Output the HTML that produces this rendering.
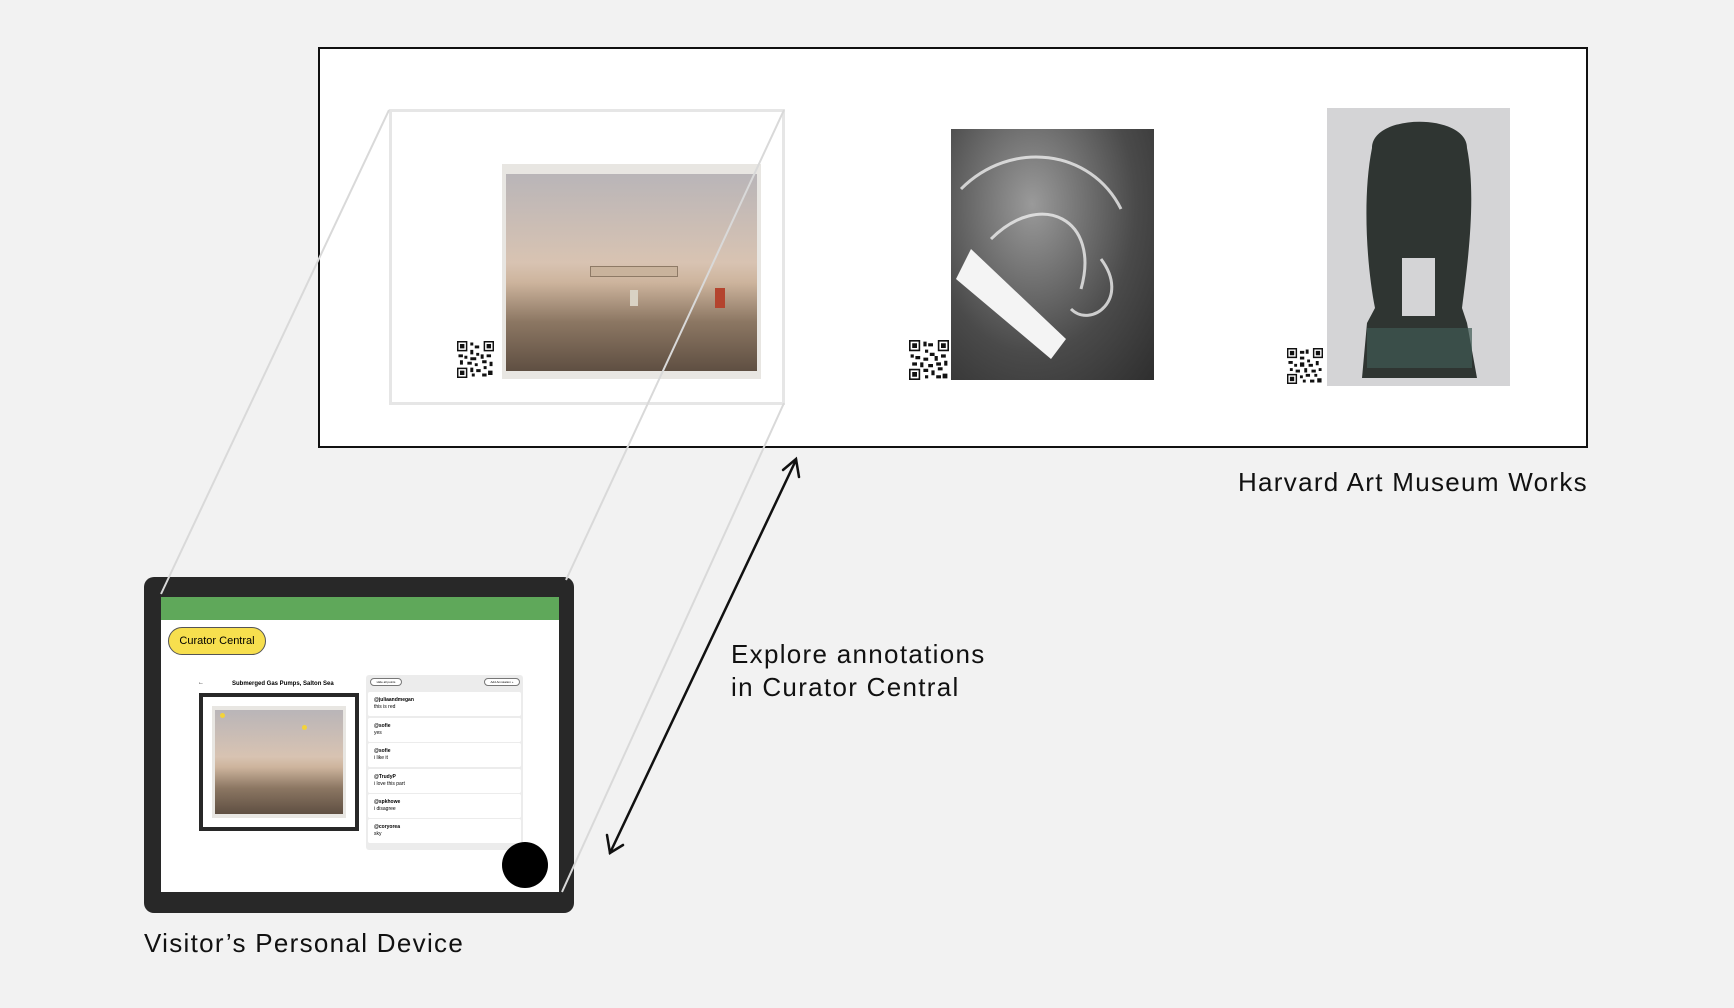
<!DOCTYPE html>
<html><head><meta charset="utf-8"><style>
body{margin:0;width:1734px;height:1008px;background:#f2f2f2;position:relative;overflow:hidden;font-family:"Liberation Sans",sans-serif}
.a{position:absolute}
.lbl{position:absolute;font-size:26px;color:#111;white-space:nowrap;line-height:1;letter-spacing:1.3px}
.card{position:absolute;left:368px;width:153px;height:24px;background:#fff;border-radius:2px;font-size:5px;line-height:7px}
.card b{display:block;margin:5px 0 0 6px}
.card span{display:block;margin-left:6px}
</style></head><body>
<div class="a" style="left:318px;top:47px;width:1266px;height:397px;border:2px solid #111;background:#fff"></div>
<div class="a" style="left:389px;top:109px;width:390px;height:290px;border:3px solid #e6e6e6"></div>
<!-- photo 1 -->
<div class="a" style="left:502px;top:164px;width:259px;height:215px;background:#e8e6e2"></div>
<div class="a" style="left:506px;top:174px;width:251px;height:197px;background:linear-gradient(#b9b5b8 0%,#d8c3b2 45%,#cdb49d 55%,#8c7763 75%,#5f4f42 100%)"></div>
<div class="a" style="left:590px;top:266px;width:86px;height:9px;background:#c9b39c;border:1px solid #8e7a66"></div>
<div class="a" style="left:715px;top:288px;width:10px;height:20px;background:#b4442e"></div>
<div class="a" style="left:630px;top:290px;width:8px;height:16px;background:#d9d2c4"></div>
<!-- photo 2 -->
<div class="a" style="left:951px;top:129px;width:203px;height:251px;background:radial-gradient(ellipse at 40% 30%,#9a9a9a,#4a4a4a 60%,#2e2e2e)"></div>
<svg class="a" style="left:951px;top:129px" width="203" height="251"><g fill="none" stroke="#eee" stroke-width="3" opacity=".8"><path d="M10 60 C60 10 140 20 170 80"/><path d="M40 110 C90 60 150 90 130 160"/><path d="M150 130 C180 170 140 200 120 180"/></g><polygon points="5,150 100,230 115,210 20,120" fill="#f4f4f4"/></svg>
<!-- photo 3 -->
<div class="a" style="left:1327px;top:108px;width:183px;height:278px;background:#d4d4d6"></div>
<svg class="a" style="left:1327px;top:108px" width="183" height="278"><path d="M45 40 C45 5 140 5 140 40 C150 90 140 160 135 200 L140 215 L150 270 L35 270 L40 215 L48 200 C40 160 35 90 45 40Z" fill="#2f3532"/><rect x="75" y="150" width="33" height="58" fill="#d4d4d6"/><path d="M40 220 L145 220 L145 260 L40 260Z" fill="#3e5a52" opacity=".7"/></svg>
<!-- QR codes -->
<svg class="a" style="left:457px;top:341px" width="37" height="37" viewBox="0 0 25 25"><rect width="25" height="25" fill="#fff"/><g fill="#111"><path d="M0 0h7v7H0zM18 0h7v7h-7zM0 18h7v7H0z"/><path d="M9 1h2v2H9zM12 3h3v2h-3zM9 6h2v3H9zM13 8h2v2h-2zM1 9h3v2H1zM5 10h2v2H5zM9 11h4v2H9zM16 9h2v3h-2zM20 9h3v2h-3zM2 13h2v3H2zM7 14h3v2H7zM12 15h2v2h-2zM17 13h3v2h-3zM22 14h2v3h-2zM9 18h2v3H9zM13 19h3v2h-3zM18 17h2v2h-2zM21 20h3v3h-3zM17 22h3v2h-3zM10 22h2v2h-2z"/></g><g fill="#fff"><path d="M1 1h5v5H1zM19 1h5v5h-5zM1 19h5v5H1z"/></g><g fill="#111"><path d="M2 2h3v3H2zM20 2h3v3h-3zM2 20h3v3H2z"/></g></svg>
<svg class="a" style="left:909px;top:340px" width="40" height="40" viewBox="0 0 25 25"><rect width="25" height="25" fill="#fff"/><g fill="#111"><path d="M0 0h7v7H0zM18 0h7v7h-7zM0 18h7v7H0z"/><path d="M9 1h2v3H9zM12 2h3v2h-3zM10 6h2v2h-2zM13 8h3v2h-3zM1 9h2v2H1zM4 10h3v2H4zM9 11h3v2H9zM16 10h2v3h-2zM20 9h3v2h-3zM2 14h3v2H2zM7 14h2v3H7zM12 15h3v2h-3zM17 14h3v2h-3zM22 13h2v3h-2zM9 18h3v2H9zM14 19h2v3h-2zM18 17h3v2h-3zM21 21h3v3h-3zM17 22h3v2h-3zM10 22h2v2h-2z"/></g><g fill="#fff"><path d="M1 1h5v5H1zM19 1h5v5h-5zM1 19h5v5H1z"/></g><g fill="#111"><path d="M2 2h3v3H2zM20 2h3v3h-3zM2 20h3v3H2z"/></g></svg>
<svg class="a" style="left:1287px;top:348px" width="36" height="36" viewBox="0 0 25 25"><rect width="25" height="25" fill="#fff"/><g fill="#111"><path d="M0 0h7v7H0zM18 0h7v7h-7zM0 18h7v7H0z"/><path d="M9 2h3v2H9zM13 1h2v3h-2zM9 6h3v2H9zM14 8h2v2h-2zM1 9h3v2H1zM5 11h2v2H5zM9 10h3v3H9zM15 11h3v2h-3zM20 9h2v3h-2zM2 14h2v2H2zM6 15h3v2H6zM12 14h2v3h-2zM17 15h3v2h-3zM22 14h2v2h-2zM9 19h2v2H9zM13 18h3v2h-3zM19 18h2v2h-2zM21 21h3v3h-3zM16 22h3v2h-3zM11 22h2v2h-2z"/></g><g fill="#fff"><path d="M1 1h5v5H1zM19 1h5v5h-5zM1 19h5v5H1z"/></g><g fill="#111"><path d="M2 2h3v3H2zM20 2h3v3h-3zM2 20h3v3H2z"/></g></svg>
<div class="lbl" style="right:146px;top:469px">Harvard Art Museum Works</div>
<!-- tablet -->
<div class="a" style="left:144px;top:577px;width:430px;height:336px;background:#282828;border-radius:10px"></div>
<div class="a" style="left:161px;top:597px;width:398px;height:295px;background:#fff"></div>
<div class="a" style="left:161px;top:597px;width:398px;height:23px;background:#5fa85a"></div>
<div class="a" style="left:168px;top:627px;width:96px;height:26px;background:#f7df4e;border:1px solid #555;border-radius:14px;font-size:11px;line-height:26px;text-align:center">Curator Central</div>
<div class="a" style="left:198px;top:680px;font-size:6px">←</div>
<div class="a" style="left:232px;top:681px;font-size:6px;font-weight:bold">Submerged Gas Pumps, Salton Sea</div>
<div class="a" style="left:199px;top:693px;width:152px;height:130px;border:4px solid #282828;background:#fff"></div>
<div class="a" style="left:212px;top:706px;width:134px;height:112px;background:#e8e6e2"></div>
<div class="a" style="left:215px;top:710px;width:128px;height:104px;background:linear-gradient(#b9b5b8 0%,#d8c3b2 45%,#cdb49d 55%,#8c7763 75%,#5f4f42 100%)"></div>
<div class="a" style="left:220px;top:713px;width:5px;height:5px;border-radius:50%;background:#f3d33a"></div>
<div class="a" style="left:302px;top:725px;width:5px;height:5px;border-radius:50%;background:#f3d33a"></div>
<div class="a" style="left:366px;top:675px;width:157px;height:175px;background:#ececec;border-radius:3px"></div>
<div class="a" style="left:370px;top:678px;width:30px;height:6px;border:1px solid #777;border-radius:4px;font-size:3px;line-height:6px;text-align:center;background:#fff">Hide all points</div>
<div class="a" style="left:484px;top:678px;width:34px;height:6px;border:1px solid #777;border-radius:4px;font-size:3px;line-height:6px;text-align:center;background:#fff">Add Annotation +</div>
<div class="card" style="top:692px"><b>@juliaandmegan</b><span>this is red</span></div>
<div class="card" style="top:718px"><b>@sofie</b><span>yes</span></div>
<div class="card" style="top:743px"><b>@sofie</b><span>i like it</span></div>
<div class="card" style="top:769px"><b>@TrudyP</b><span>i love this part</span></div>
<div class="card" style="top:794px"><b>@spkhowe</b><span>i disagree</span></div>
<div class="card" style="top:819px"><b>@coryorea</b><span>sky</span></div>
<div class="a" style="left:502px;top:842px;width:46px;height:46px;border-radius:50%;background:#000"></div>
<div class="lbl" style="left:144px;top:930px">Visitor’s Personal Device</div>
<div class="lbl" style="left:731px;top:638px;line-height:33px">Explore annotations<br>in Curator Central</div>
<svg class="a" style="left:0;top:0" width="1734" height="1008">
<g stroke="#d9d9d9" stroke-width="2" fill="none">
<line x1="389" y1="110" x2="161" y2="594"/>
<line x1="784" y1="110" x2="566" y2="580"/>
<line x1="784" y1="403" x2="562" y2="892"/>
</g>
<g stroke="#111" stroke-width="2.5" fill="none" stroke-linecap="round">
<line x1="796" y1="460" x2="610" y2="853"/>
<polyline points="783,470 796,459 799,477"/>
<polyline points="607,835 610,853 623,845"/>
</g>
</svg>
</body></html>
